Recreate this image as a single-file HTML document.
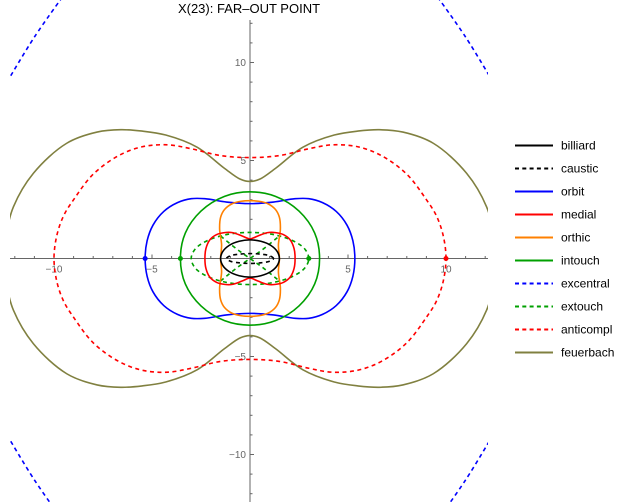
<!DOCTYPE html>
<html><head><meta charset="utf-8"><style>
body{margin:0;background:#fff;}
svg{display:block;font-family:"Liberation Sans",sans-serif;}
</style></head><body>
<svg id="chart" width="623" height="502" viewBox="0 0 623 502">
<defs><clipPath id="plotclip"><rect x="10" y="0" width="478" height="502"/></clipPath></defs>
<text x="249" y="13" text-anchor="middle" font-size="13" fill="#000">X(23): FAR–OUT POINT</text>
<g id="axes"></g>
<g id="curves" clip-path="url(#plotclip)"></g>
<g id="legend"></g>
</svg>
<script>
// First-quadrant sample points (data units), mirrored into 4 quadrants
const billiard=[[1.5,0],[1.4,0.34],[1.06,0.67],[0.55,0.88],[0,0.95]];
const caustic=[[1.2,0],[1.0,0.14],[0.55,0.22],[0,0.25]];
const orbit=[[5.35,0],[5.25,0.9],[4.95,1.7],[4.4,2.4],[3.7,2.85],[3.0,3.05],[2.3,3.05],[1.2,2.88],[0,2.8]];
const medial=[[2.3,0],[2.25,0.5],[2.05,0.95],[1.7,1.22],[1.3,1.32],[0.9,1.32],[0.4,1.15],[0,1.0]];
const orthic=[[1.5,0],[1.45,0.7],[1.55,1.5],[1.5,2.1],[1.3,2.5],[0.9,2.8],[0.45,2.92],[0,2.95]];
const intouch=[[3.55,0],[3.3,1.3],[2.5,2.42],[1.3,3.17],[0,3.4]];
const extouch=[[3.0,0],[2.8,0.48],[2.2,0.9],[1.2,1.22],[0,1.33]];
const anticompl=[[10,0],[9.85,1.2],[9.5,2.2],[9.0,3.0],[8.0,4.3],[6.7,5.25],[5.5,5.7],[4.2,5.8],[3,5.6],[1.5,5.25],[0,5.15]];
const feuerbach=[[12.5,0],[12.4,1.4],[12.07,2.64],[11.05,4.35],[9.35,5.88],[7.8,6.45],[6.6,6.57],[5.5,6.5],[4.3,6.3],[2.7,5.68],[1.3,4.6],[0.5,4.05],[0,3.93]];
const excentral=[[12.4,9.0],[11.0,11.3],[9.6,13.3]];
const xTicks=[-10,-5,5,10];
const yTicks=[-10,-5,5,10];
const legendNames=["billiard","caustic","orbit","medial","orthic","intouch","excentral","extouch","anticompl","feuerbach"];
const legendColors=["#000","#000","#00f","#f00","#ff8000","#00a000","#00f","#00a000","#f00","#808040"];
const legendDash=[0,1,0,0,0,0,1,1,1,0];

const NS="http://www.w3.org/2000/svg";
const X=v=>250+v*19.6, Y=v=>258.5-v*19.6;
function mk(tag,attrs,parent){const e=document.createElementNS(NS,tag);for(const k in attrs)e.setAttribute(k,attrs[k]);parent.appendChild(e);return e;}
const axes=document.getElementById('axes');
const xa=mk('line',{x1:10,y1:Y(0),x2:488,y2:Y(0),stroke:'#666','stroke-width':1},axes);


const ya=mk('line',{x1:X(0),y1:20,x2:X(0),y2:502,stroke:'#666','stroke-width':1},axes);


for(let i=-12;i<=12;i++){if(!i)continue;const big=i%5===0;
 const t=mk('line',{x1:X(i),y1:Y(0),x2:X(i),y2:Y(0)-(big?4:2.5),stroke:'#666'},axes);
 
 }
for(let i=-12;i<=12;i++){if(!i)continue;const big=i%5===0;
 const t=mk('line',{x1:X(0),y1:Y(i),x2:X(0)+(big?4:2.5),y2:Y(i),stroke:'#666'},axes);
 
 }
xTicks.forEach(v=>{const t=mk('text',{x:X(v),y:Y(0)+14,'text-anchor':'middle','font-size':10,fill:'#666'},axes);t.textContent=v<0?'\u2212'+(-v):v;
 
 });
yTicks.forEach(v=>{const t=mk('text',{x:X(0)-4,y:Y(v)+3.5,'text-anchor':'end','font-size':10,fill:'#666'},axes);t.textContent=v<0?'\u2212'+(-v):v;
 
 });

function loop(q){const a=q.slice();const q2=q.slice().reverse().slice(1).map(p=>[-p[0],p[1]]);
 const q3=q.slice(1).map(p=>[-p[0],-p[1]]);const q4=q.slice().reverse().slice(1,-1).map(p=>[p[0],-p[1]]);
 return a.concat(q2,q3,q4);}
function pathOf(pts,closed){const P=pts.map(p=>[X(p[0]),Y(p[1])]);const n=P.length;let d='M'+P[0][0]+','+P[0][1];
 const g=i=>closed?P[(i+n)%n]:P[Math.max(0,Math.min(n-1,i))];
 const dist=(a,b)=>Math.pow(Math.hypot(a[0]-b[0],a[1]-b[1]),0.5);
 const m=closed?n:n-1;
 for(let i=0;i<m;i++){const p0=g(i-1),p1=g(i),p2=g(i+1),p3=g(i+2);
  const d1=dist(p0,p1),d2=dist(p1,p2),d3=dist(p2,p3);
  let b1=p1,b2=p2;
  if(d1>1e-6){b1=[0,1].map(k=>(d1*d1*p2[k]-d2*d2*p0[k]+(2*d1*d1+3*d1*d2+d2*d2)*p1[k])/(3*d1*(d1+d2)));}
  if(d3>1e-6){b2=[0,1].map(k=>(d3*d3*p1[k]-d2*d2*p3[k]+(2*d3*d3+3*d3*d2+d2*d2)*p2[k])/(3*d3*(d3+d2)));}
  d+=' C'+b1[0]+','+b1[1]+' '+b2[0]+','+b2[1]+' '+p2[0]+','+p2[1];}
 return d+(closed?'Z':'');}
const cg=document.getElementById('curves');
function draw(d,color,dash,name){const e=mk('path',{d:d,fill:'none',stroke:color,'stroke-width':1.6,'stroke-dasharray':dash?'4,3.5':'none'},cg);
 
 }
draw(pathOf(loop(feuerbach),true),'#808040',0,'feuerbach-curve');
draw(pathOf(loop(anticompl),true),'#f00',1,'anticompl-curve');
[[1,1],[-1,1],[-1,-1],[1,-1]].forEach(s=>draw(pathOf(excentral.map(p=>[p[0]*s[0],p[1]*s[1]]),false),'#00f',1,'excentral-curve'));
draw(pathOf(loop(orbit),true),'#00f',0,'orbit-curve');
draw(pathOf(loop(intouch),true),'#00a000',0,'intouch-curve');
draw(pathOf(loop(extouch),true),'#00a000',1,'extouch-curve');
draw(pathOf([[-1.5,1.15],[-0.7,0.5],[0,0],[0.7,-0.5],[1.5,-1.15]],false),'#00a000',1,'extouch-inner');
draw(pathOf([[-1.5,-1.15],[-0.7,-0.5],[0,0],[0.7,0.5],[1.5,1.15]],false),'#00a000',1,'extouch-inner');
draw(pathOf(loop(orthic),true),'#ff8000',0,'orthic-curve');
draw(pathOf(loop(medial),true),'#f00',0,'medial-curve');
draw(pathOf(loop(billiard),true),'#000',0,'billiard-curve');
draw(pathOf(loop(caustic),true),'#000',1,'caustic-curve');
[[-orbit[0][0],'#00f'],[anticompl[0][0],'#f00'],[-intouch[0][0],'#00a000'],[extouch[0][0],'#00a000']].forEach(d=>{
 const c=mk('circle',{cx:X(d[0]),cy:Y(0),r:2.5,fill:d[1]},cg);
 
 });
const lg=document.getElementById('legend');
legendNames.forEach((n,i)=>{const y=145.5+i*23;
 const l=mk('line',{x1:515,y1:y,x2:553,y2:y,stroke:legendColors[i],'stroke-width':2,'stroke-dasharray':legendDash[i]?'4,3.3':'none'},lg);
 
 
 const t=mk('text',{x:561,y:y+4,'font-size':12,fill:'#000'},lg);t.textContent=n;
 
 });
</script>
</body></html>
